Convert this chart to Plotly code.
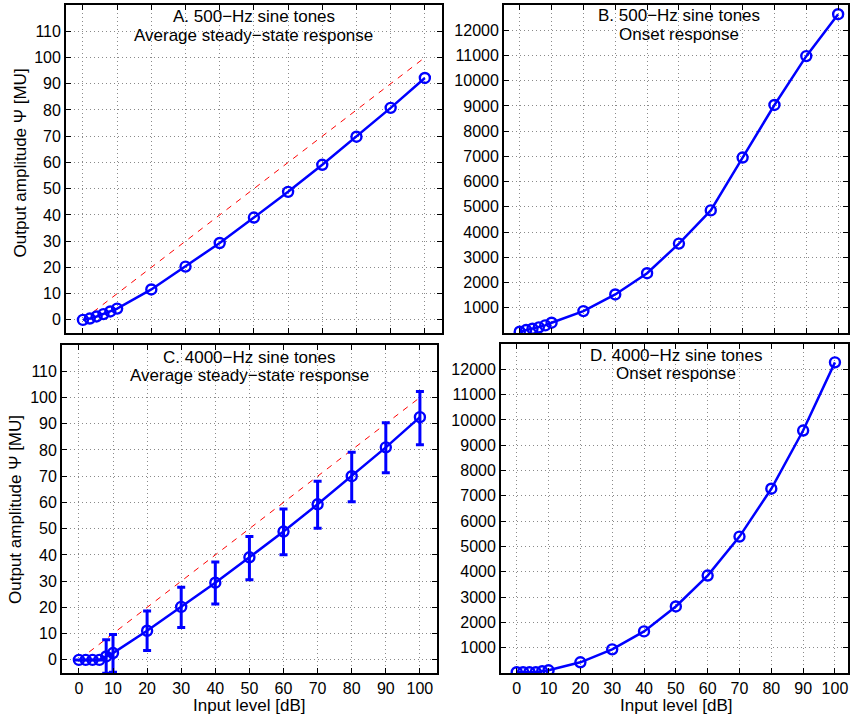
import plotly.graph_objects as go

levels = [0, 2, 4, 6, 8, 10, 20, 30, 40, 50, 60, 70, 80, 90, 100]

# Panel A: 500-Hz average steady-state response
a_vals = [0.0, 0.5, 1.3, 2.2, 3.2, 4.3, 11.6, 20.3, 29.3, 39.0, 48.8, 59.1, 69.8, 80.8, 92.2]
# Panel B: 500-Hz onset response
b_vals = [51, 117, 170, 223, 302, 407, 868, 1527, 2370, 3543, 4860, 6955, 9037, 10974, 12634]
# Panel C: 4000-Hz average steady-state response (mean and error)
c_vals = [0.0, 0.0, 0.0, 0.0, 1.3, 2.6, 11.1, 20.2, 29.4, 39.1, 48.9, 59.3, 70.0, 81.0, 92.5]
c_err_plus = [0, 0, 0, 0, 6.4, 7.1, 7.5, 7.5, 7.9, 7.9, 8.6, 8.8, 9.1, 9.4, 9.8]
c_err_minus = [0, 0, 0, 0, 6.4, 7.3, 7.5, 7.9, 8.1, 8.6, 8.8, 9.1, 9.7, 9.7, 10.5]
# Panel D: 4000-Hz onset response
d_vals = [30, 30, 30, 30, 67, 106, 422, 934, 1644, 2629, 3851, 5389, 7281, 9580, 12275]
# Reference line y = x
ref_x = [3, 100]
ref_y = [3, 100]

lin_ticks = list(range(0, 111, 10))
onset_ticks = list(range(1000, 12001, 1000))
x_ticks = list(range(0, 101, 10))

titles = {
    "A": ["A. 500\u2212Hz sine tones", "Average steady\u2212state response"],
    "B": ["B. 500\u2212Hz sine tones", "Onset response"],
    "C": ["C. 4000\u2212Hz sine tones", "Average steady\u2212state response"],
    "D": ["D. 4000\u2212Hz sine tones", "Onset response"],
}
y_label = "Output amplitude \u03a8 [MU]"
x_label = "Input level [dB]"

W, H = 850, 716
FONT = "Liberation Sans, Arial, Helvetica, sans-serif"
BLUE = "#0000ff"


def px_x(a, b):
    return [a / W, b / W]


def px_y(top, bottom):
    return [1 - bottom / H, 1 - top / H]


fig = go.Figure()

line_style = dict(color=BLUE, width=2.5)
marker_style = dict(symbol="circle-open", size=10, color=BLUE, line=dict(width=2.4, color=BLUE))
ref_style = dict(color="#ff0000", width=1, dash="6px,6px")

# A
fig.add_trace(go.Scatter(x=ref_x, y=ref_y, mode="lines", line=ref_style,
                         xaxis="x", yaxis="y", showlegend=False))
fig.add_trace(go.Scatter(x=levels, y=a_vals, mode="lines+markers", line=line_style, marker=marker_style,
                         xaxis="x", yaxis="y", showlegend=False))
# B
fig.add_trace(go.Scatter(x=levels, y=b_vals, mode="lines+markers", line=line_style, marker=marker_style,
                         xaxis="x2", yaxis="y2", showlegend=False))
# C
fig.add_trace(go.Scatter(x=ref_x, y=ref_y, mode="lines", line=ref_style,
                         xaxis="x3", yaxis="y3", showlegend=False))
fig.add_trace(go.Scatter(x=levels, y=c_vals, mode="lines+markers", line=line_style, marker=marker_style,
                         error_y=dict(type="data", symmetric=False, array=c_err_plus, arrayminus=c_err_minus,
                                      color=BLUE, thickness=3, width=4),
                         xaxis="x3", yaxis="y3", showlegend=False))
# D
fig.add_trace(go.Scatter(x=levels, y=d_vals, mode="lines+markers", line=line_style, marker=marker_style,
                         xaxis="x4", yaxis="y4", showlegend=False))

common_axis = dict(showline=True, linecolor="black", linewidth=1.5, mirror="ticks", ticks="inside",
                   ticklen=5, tickcolor="black", showgrid=True, gridcolor="#8a8a8a", griddash="1px,3px",
                   gridwidth=1, zeroline=False, tickformat="d",
                   tickfont=dict(family=FONT, size=16, color="black"))

fig.update_layout(
    width=W, height=H, margin=dict(l=0, r=0, t=0, b=0),
    paper_bgcolor="white", plot_bgcolor="white",
    font=dict(family=FONT, size=16, color="black"),
    xaxis=dict(domain=px_x(66, 443), range=[-5, 105], tickvals=x_ticks, showticklabels=False,
               anchor="y", **common_axis),
    yaxis=dict(domain=px_y(5, 333), range=[-5, 120], tickvals=lin_ticks, anchor="x", **common_axis),
    xaxis2=dict(domain=px_x(505, 850), range=[-5, 103.1], tickvals=x_ticks, showticklabels=False,
                anchor="y2", **common_axis),
    yaxis2=dict(domain=px_y(5, 333), range=[0, 13000], tickvals=onset_ticks, anchor="x2", **common_axis),
    xaxis3=dict(domain=px_x(62, 438), range=[-5, 105], tickvals=x_ticks, anchor="y3", **common_axis),
    yaxis3=dict(domain=px_y(345, 673), range=[-5, 120], tickvals=lin_ticks, anchor="x3", **common_axis),
    xaxis4=dict(domain=px_x(502, 850), range=[-5, 104.1], tickvals=x_ticks, anchor="y4", **common_axis),
    yaxis4=dict(domain=px_y(344, 673), range=[0, 13000], tickvals=onset_ticks, anchor="x4", **common_axis),
)

annos = []
for key, xr, yr, shifts in [("A", "x", "y", (-12, -31)), ("B", "x2", "y2", (-11, -30)),
                            ("C", "x3", "y3", (-12, -30)), ("D", "x4", "y4", (-11, -29))]:
    for line, ys in zip(titles[key], shifts):
        annos.append(dict(text=line, xref=xr, x=50, yref=yr + " domain", y=1,
                          yanchor="middle", xanchor="center", yshift=ys, showarrow=False,
                          font=dict(family=FONT, size=17, color="black")))

# y-axis labels
annos.append(dict(text=y_label, xref="paper", x=20 / W, yref="y domain", y=0.52,
                  textangle=-90, showarrow=False, xanchor="center", yanchor="middle",
                  font=dict(family=FONT, size=17, color="black")))
annos.append(dict(text=y_label, xref="paper", x=15 / W, yref="y3 domain", y=0.5,
                  textangle=-90, showarrow=False, xanchor="center", yanchor="middle",
                  font=dict(family=FONT, size=17, color="black")))
# x-axis labels
annos.append(dict(text=x_label, xref="x3", x=50, yref="paper", y=1 - 705 / H,
                  showarrow=False, xanchor="center", yanchor="middle",
                  font=dict(family=FONT, size=17, color="black")))
annos.append(dict(text=x_label, xref="x4", x=50, yref="paper", y=1 - 705 / H,
                  showarrow=False, xanchor="center", yanchor="middle",
                  font=dict(family=FONT, size=17, color="black")))

fig.update_layout(annotations=annos)

fig.write_html("out.html", config={"displayModeBar": False},
               post_script="document.body.style.margin='0px';document.body.style.overflow='hidden';")
